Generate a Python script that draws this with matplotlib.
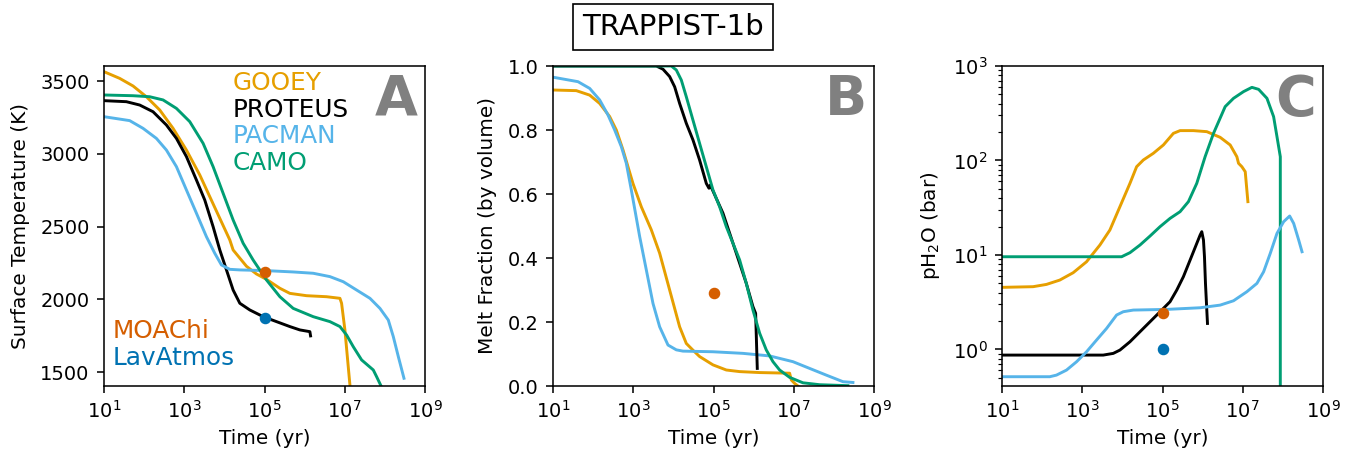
import numpy as np
import matplotlib
matplotlib.use("Agg")
import matplotlib.pyplot as plt

# ---------------- data (log10 time in yr) ----------------
# Panel A: surface temperature (K)
gooey_A_logt = [1.0, 1.391, 1.723, 2.056, 2.389, 2.721, 3.054, 3.387, 3.636, 3.886, 4.135, 4.218, 4.551, 4.800,
                5.050, 5.383, 5.632, 6.048, 6.547, 6.880, 6.921, 7.004, 7.087, 7.14]
gooey_A_T = [3564, 3518, 3466, 3392, 3301, 3175, 3026, 2855, 2706, 2557, 2409, 2340, 2228, 2175,
             2138, 2077, 2042, 2026, 2019, 2008, 1974, 1791, 1539, 1380]

proteus_A_logt = [1.0, 1.557, 1.890, 2.222, 2.555, 2.805, 3.054, 3.304, 3.511, 3.719, 3.886, 4.052, 4.218, 4.385,
                  4.634, 4.967, 5.299, 5.632, 5.881, 6.131, 6.148]
proteus_A_T = [3365, 3358, 3335, 3289, 3198, 3106, 2981, 2820, 2683, 2500, 2340, 2203, 2065, 1974,
               1928, 1882, 1848, 1814, 1791, 1779, 1750]

pacman_A_logt = [1.0, 1.640, 1.973, 2.306, 2.555, 2.805, 3.054, 3.304, 3.553, 3.761, 3.927, 4.135, 4.385, 5.050,
                 5.715, 6.214, 6.630, 6.963, 7.295, 7.628, 7.877, 8.085, 8.210, 8.335, 8.476]
pacman_A_T = [3255, 3228, 3175, 3106, 3026, 2912, 2752, 2592, 2431, 2317, 2237, 2207, 2203, 2198,
              2189, 2180, 2157, 2122, 2065, 2008, 1939, 1859, 1745, 1608, 1459]

camo_A_logt = [1.0, 1.723, 2.139, 2.472, 2.805, 3.137, 3.470, 3.719, 3.969, 4.218, 4.468, 4.717, 5.050, 5.383,
               5.715, 6.214, 6.630, 6.880, 7.046, 7.212, 7.420, 7.711, 7.794, 7.95]
camo_A_T = [3404, 3399, 3392, 3370, 3312, 3221, 3072, 2912, 2729, 2546, 2386, 2271, 2134, 2019,
            1939, 1882, 1848, 1814, 1756, 1676, 1585, 1516, 1470, 1380]

moachi_A = (5.0, 2191)
lavatmos_A = (5.0, 1871)

# Panel B: melt fraction
gooey_B_logt = [1.0, 1.581, 1.914, 2.163, 2.412, 2.578, 2.744, 2.993, 3.201, 3.450, 3.658, 3.907, 4.156, 4.322,
                4.488, 4.654, 4.987, 5.319, 5.651, 6.150, 6.897, 6.939, 7.022, 7.105]
gooey_B_f = [0.925, 0.923, 0.909, 0.883, 0.842, 0.8, 0.738, 0.633, 0.560, 0.488, 0.415, 0.300, 0.185, 0.133,
             0.112, 0.092, 0.066, 0.050, 0.045, 0.042, 0.040, 0.019, 0.008, 0.0]

pacman_B_logt = [1.0, 1.623, 1.914, 2.163, 2.370, 2.537, 2.703, 2.827, 2.952, 3.160, 3.326, 3.492, 3.658, 3.866,
                 4.073, 4.239, 4.987, 5.734, 6.399, 6.980, 7.395, 7.811, 8.226, 8.475]
pacman_B_f = [0.965, 0.951, 0.930, 0.894, 0.847, 0.8, 0.748, 0.696, 0.6125, 0.467, 0.3625, 0.258, 0.185, 0.128,
              0.113, 0.109, 0.107, 0.102, 0.094, 0.076, 0.055, 0.034, 0.0135, 0.011]

proteus_B_logt = [1.0, 3.575, 3.741, 3.907, 4.032, 4.156, 4.322, 4.488, 4.654, 4.821, 4.887, 4.920, 5.236, 5.568,
                  5.817, 5.983, 6.050, 6.091]
proteus_B_f = [1.0, 1.0, 0.990, 0.967, 0.935, 0.883, 0.821, 0.769, 0.706, 0.633, 0.618, 0.628, 0.54, 0.415,
               0.321, 0.248, 0.227, 0.055]

camo_B_logt = [1.0, 3.949, 4.073, 4.198, 4.322, 4.488, 4.654, 4.821, 4.987, 5.153, 5.319, 5.485, 5.651, 5.817,
               5.983, 6.150, 6.316, 6.482, 6.648, 6.897, 7.229, 7.645, 8.35]
camo_B_f = [1.0, 1.0, 0.9875, 0.956, 0.904, 0.831, 0.758, 0.685, 0.6125, 0.560, 0.498, 0.446, 0.394, 0.321,
            0.2375, 0.165, 0.1125, 0.076, 0.05, 0.027, 0.010, 0.004, 0.001]

moachi_B = (5.0, 0.29)

# Panel C: pH2O (bar), log10 values
gooey_C_logt = [1.0, 1.774, 2.107, 2.440, 2.774, 3.107, 3.440, 3.689, 3.939, 4.189, 4.355, 4.522, 4.772, 5.022,
                5.271, 5.438, 5.771, 6.104, 6.437, 6.687, 6.853, 6.895, 6.978, 7.062, 7.128]
gooey_C_logp = [0.657, 0.664, 0.688, 0.734, 0.812, 0.928, 1.105, 1.264, 1.511, 1.758, 1.934, 2.005, 2.076, 2.164,
                2.287, 2.316, 2.316, 2.305, 2.245, 2.164, 2.040, 1.970, 1.934, 1.881, 1.564]

camo_C_logt = [1.0, 3.981, 4.189, 4.439, 4.689, 4.938, 5.188, 5.438, 5.646, 5.854, 6.062, 6.271, 6.562, 6.770,
               7.020, 7.228, 7.395, 7.603, 7.769, 7.853, 7.936, 7.936]
camo_C_logp = [0.981, 0.981, 1.024, 1.105, 1.200, 1.299, 1.387, 1.458, 1.564, 1.758, 2.040, 2.287, 2.570, 2.658,
               2.729, 2.774, 2.753, 2.658, 2.464, 2.252, 2.040, -3.0]

proteus_C_logt = [1.0, 3.523, 3.773, 3.939, 4.189, 4.439, 4.772, 5.022, 5.188, 5.355, 5.521, 5.688, 5.854, 5.938,
                  5.979, 6.021, 6.046, 6.071, 6.104, 6.121]
proteus_C_logp = [-0.06, -0.06, -0.042, -0.007, 0.081, 0.187, 0.328, 0.434, 0.505, 0.628, 0.770, 0.946, 1.122, 1.211,
                  1.246, 1.158, 0.981, 0.699, 0.417, 0.275]

pacman_C_logt = [1.0, 2.191, 2.357, 2.607, 2.857, 3.107, 3.356, 3.606, 3.856, 4.022, 4.272, 5.105, 5.938, 6.437,
                 6.770, 7.103, 7.353, 7.520, 7.686, 7.853, 8.019, 8.169, 8.269, 8.394, 8.477]
pacman_C_logp = [-0.289, -0.289, -0.272, -0.219, -0.131, -0.025, 0.099, 0.222, 0.364, 0.399, 0.4165, 0.4236, 0.441,
                 0.469, 0.515, 0.611, 0.699, 0.822, 1.017, 1.228, 1.352, 1.412, 1.334, 1.158, 1.034]

moachi_C = (5.0, 2.44)
lavatmos_C = (5.0, 1.0)

# ---------------- style ----------------
C_GOOEY = "#E69F00"
C_PROTEUS = "#000000"
C_PACMAN = "#56B4E9"
C_CAMO = "#009E73"
C_MOACHI = "#D55E00"
C_LAVATMOS = "#0072B2"
S = 1.4  # overall scale factor
LW = 1.5 * S
MS = 7.3
LFS = 17.8

plt.rcParams['font.family'] = ['DejaVu Sans']
plt.rcParams.update({
    'font.size': 14,
    'axes.labelsize': 14.4,
    'xtick.labelsize': 14,
    'ytick.labelsize': 14,
    'axes.linewidth': 0.8 * S,
    'xtick.major.size': 4.9,
    'ytick.major.size': 4.9,
    'xtick.major.width': 0.8 * S,
    'ytick.major.width': 0.8 * S,
    'xtick.minor.size': 2 * S,
    'ytick.minor.size': 2 * S,
    'xtick.minor.width': 0.6 * S,
    'ytick.minor.width': 0.6 * S,
    'xtick.major.pad': 4.9,
    'ytick.major.pad': 5.5,
    'axes.labelpad': 5.6,
})

fig = plt.figure(figsize=(13.63, 4.58), dpi=100)
axw, axh = 321 / 1363, 320 / 458
bottom = 72 / 458
axA = fig.add_axes([104 / 1363, bottom, axw, axh])
axB = fig.add_axes([553 / 1363, bottom, axw, axh])
axC = fig.add_axes([1002 / 1363, bottom, axw, axh])


def t(x):
    return 10 ** np.asarray(x, dtype=float)


# Panel A
axA.plot(t(gooey_A_logt), gooey_A_T, color=C_GOOEY, lw=LW)
axA.plot(t(proteus_A_logt), proteus_A_T, color=C_PROTEUS, lw=LW)
axA.plot(t(pacman_A_logt), pacman_A_T, color=C_PACMAN, lw=LW)
axA.plot(t(camo_A_logt), camo_A_T, color=C_CAMO, lw=LW)
axA.plot(t(moachi_A[0]), moachi_A[1], 'o', color=C_MOACHI, ms=MS)
axA.plot(t(lavatmos_A[0]), lavatmos_A[1], 'o', color=C_LAVATMOS, ms=MS)
axA.set_ylim(1406, 3603)
axA.set_ylabel("Surface Temperature (K)", labelpad=7.5)

axA.text(0.40, 0.925, "GOOEY", color=C_GOOEY, fontsize=LFS, transform=axA.transAxes)
axA.text(0.40, 0.842, "PROTEUS", color=C_PROTEUS, fontsize=LFS, transform=axA.transAxes)
axA.text(0.40, 0.758, "PACMAN", color=C_PACMAN, fontsize=LFS, transform=axA.transAxes)
axA.text(0.40, 0.675, "CAMO", color=C_CAMO, fontsize=LFS, transform=axA.transAxes)
axA.text(0.027, 0.151, "MOAChi", color=C_MOACHI, fontsize=LFS, transform=axA.transAxes)
axA.text(0.027, 0.066, "LavAtmos", color=C_LAVATMOS, fontsize=LFS, transform=axA.transAxes)

# Panel B
axB.plot(t(gooey_B_logt), gooey_B_f, color=C_GOOEY, lw=LW)
axB.plot(t(pacman_B_logt), pacman_B_f, color=C_PACMAN, lw=LW)
axB.plot(t(proteus_B_logt), proteus_B_f, color=C_PROTEUS, lw=LW)
axB.plot(t(camo_B_logt), camo_B_f, color=C_CAMO, lw=LW)
axB.plot(t(moachi_B[0]), moachi_B[1], 'o', color=C_MOACHI, ms=MS)
axB.set_ylim(0, 1.0)
axB.set_ylabel("Melt Fraction (by volume)", labelpad=7.5)

# Panel C
axC.plot(t(gooey_C_logt), t(gooey_C_logp), color=C_GOOEY, lw=LW)
axC.plot(t(camo_C_logt), t(camo_C_logp), color=C_CAMO, lw=LW)
axC.plot(t(proteus_C_logt), t(proteus_C_logp), color=C_PROTEUS, lw=LW)
axC.plot(t(pacman_C_logt), t(pacman_C_logp), color=C_PACMAN, lw=LW)
axC.plot(t(moachi_C[0]), moachi_C[1], 'o', color=C_MOACHI, ms=MS)
axC.plot(t(lavatmos_C[0]), lavatmos_C[1], 'o', color=C_LAVATMOS, ms=MS)
axC.set_yscale('log')
axC.set_ylim(0.41, 1000)
axC.set_ylabel("pH$_2$O (bar)", labelpad=8)

for ax, lab in zip([axA, axB, axC], ["A", "B", "C"]):
    ax.set_xscale('log')
    ax.set_xlim(10, 1e9)
    ax.set_xticks([1e1, 1e3, 1e5, 1e7, 1e9])
    ax.set_xlabel("Time (yr)")
    ax.text(0.978, 0.847, lab, color="gray", fontsize=40, fontweight='bold',
            ha='right', va='baseline', transform=ax.transAxes)

fig.text(673 / 1363, 1 - 27 / 458, "TRAPPIST-1b", fontsize=21, ha='center', va='center',
         bbox=dict(boxstyle='square,pad=0.3', fc='white', ec='black', lw=1.2))

fig.savefig("out.png", dpi=100)
